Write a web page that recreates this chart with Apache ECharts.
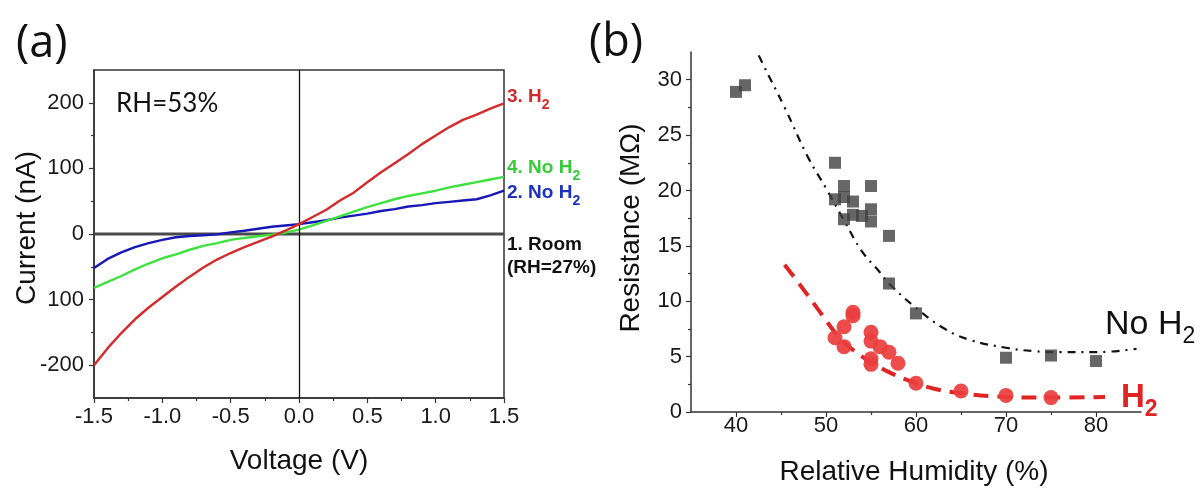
<!DOCTYPE html>
<html><head><meta charset="utf-8">
<script src="https://cdn.jsdelivr.net/npm/echarts@6/dist/echarts.min.js"></script>
<style>html,body{margin:0;padding:0;background:#fff}#c{width:1203px;height:489px}</style>
</head><body><div id="c"></div>
<script>
// ---------- Panel (a): I-V curves ----------
const voltage = [-1.5,-1.4,-1.3,-1.2,-1.1,-1.0,-0.9,-0.8,-0.7,-0.6,-0.5,-0.4,-0.3,-0.2,-0.1,0,0.1,0.2,0.3,0.4,0.5,0.6,0.7,0.8,0.9,1.0,1.1,1.2,1.3,1.4,1.5];
const currentH2   = [-200,-174,-151,-130,-112,-96,-80,-65,-51,-39,-29,-20,-12,-4,5,15,26,37,51,63,79,94,108,122,137,150,163,174,182,191,199];
const currentNoH2Second = [-82,-73,-64,-54,-45,-37,-31,-24,-18,-14,-9,-6,-3.5,-1,2,6.6,13,20,27,34,41,47,53,58,62,66,71,75,79,83,87];
const currentNoH2First  = [-52,-38,-28,-20,-14,-9,-5,-3,-2,-0.5,2.5,5,8,11,13,15,18,21,25,28,31,35,38,42,44,47,49,51,53,59,66];
const roomVoltage = [-1.5, 1.5];
const roomCurrent = [0, 0];
const voltageTickLabels = [-1.5,-1.0,-0.5,0,0.5,1.0,1.5];
const currentTicks = [-200,-100,0,100,200];
const currentMinorTicks = [-150,-50,50,150];

// ---------- Panel (b): resistance vs humidity ----------
const rhNoH2  = [40,41,51,52,55,51,52,53,55,53,54,52,55,57,57,60,70,75,80];
const resNoH2 = [28.9,29.5,22.5,20.4,20.4,19.2,19.4,19.0,18.3,17.8,17.7,17.4,17.2,15.9,11.6,8.9,4.9,5.1,4.6];
const rhH2  = [53,53,52,51,52,55,55,56,57,55,55,58,60,65,70,75];
const resH2 = [8.7,9.0,7.7,6.7,5.9,7.2,6.4,5.9,5.4,4.8,4.3,4.4,2.6,1.9,1.5,1.3];
const fitNoH2X = [41.5,43,45.4,48,50,52,54,56,57,60,63,66,70,73,76,80,84.5];
const fitNoH2Y = [34.0,31.4,27.5,23.0,20.2,17.3,14.5,12.6,11.6,9.4,7.6,6.5,5.8,5.5,5.4,5.4,5.7];
const fitH2X = [45.4,47,49,51.3,53,55,57,59,62,65,69,75,81];
const fitH2Y = [13.3,11.6,9.4,6.9,5.6,4.5,3.6,2.9,2.1,1.7,1.4,1.3,1.35];
const rhTicks = [40,50,60,70,80];
const rhMinorTicks = [45,55,65,75];
const resTicks = [0,5,10,15,20,25,30];
const resMinorTicks = [2.5,7.5,12.5,17.5,22.5,27.5];

const zip = (a, b) => a.map((v, i) => [v, b[i]]);
const AX = '#333';
const LBL = {fontSize: 22, color: '#1a1a1a', fontFamily: 'Liberation Sans'};
const FONT = 'Liberation Sans';

function subLabel(main, color, size, subSize, lh, bold) {
  const w = bold ? 'bold' : 'normal';
  return {
    text: '{m|' + main + '}{s|2}', align: 'left', verticalAlign: 'middle',
    rich: {
      m: {fontFamily: FONT, fontWeight: w, fontSize: size, lineHeight: lh, fill: color},
      s: {fontFamily: FONT, fontWeight: w, fontSize: subSize, verticalAlign: 'bottom', fill: color}
    }
  };
}

const chart = echarts.init(document.getElementById('c'), null, {renderer: 'canvas'});
chart.setOption({
  animation: false,
  backgroundColor: '#fff',
  grid: [
    {left: 94, top: 70, width: 410, height: 328, show: true, borderColor: AX, borderWidth: 1.5, backgroundColor: 'transparent', containLabel: false},
    {left: 691, top: 52, width: 450, height: 360, containLabel: false}
  ],
  xAxis: [
    {gridIndex: 0, type: 'value', min: -1.5, max: 1.5, interval: 0.5,
     axisLine: {show: true, onZero: false, lineStyle: {color: AX, width: 1.5}},
     axisTick: {show: true, length: 5, lineStyle: {color: AX, width: 1.2}},
     minorTick: {show: true, splitNumber: 2, length: 3, lineStyle: {color: AX, width: 1.2}},
     axisLabel: Object.assign({margin: 8, formatter: v => v.toFixed(1), customValues: voltageTickLabels}, LBL),
     splitLine: {show: false}},
    {gridIndex: 1, type: 'value', min: 35, max: 85, interval: 5, position: 'bottom',
     axisLine: {show: true, onZero: false, lineStyle: {color: AX, width: 1.5}},
     axisTick: {show: true, length: 5, customValues: rhTicks, lineStyle: {color: AX, width: 1.2}},
     axisLabel: Object.assign({margin: 3, customValues: rhTicks}, LBL),
     splitLine: {show: false}},
    {gridIndex: 1, type: 'value', min: 35, max: 85, interval: 5, position: 'bottom',
     axisLine: {show: false, onZero: false},
     axisTick: {show: true, length: 3, customValues: rhMinorTicks, lineStyle: {color: AX, width: 1.2}},
     axisLabel: {show: false}, splitLine: {show: false}}
  ],
  yAxis: [
    {gridIndex: 0, type: 'value', min: -250, max: 250, interval: 50, position: 'left',
     axisLine: {show: true, onZero: false, lineStyle: {color: AX, width: 1.5}},
     axisTick: {show: true, length: 5, customValues: currentTicks, lineStyle: {color: AX, width: 1.2}},
     axisLabel: Object.assign({margin: 10, customValues: currentTicks, formatter: v => (v === -100 ? '100' : String(v))}, LBL),
     splitLine: {show: false}},
    {gridIndex: 0, type: 'value', min: -250, max: 250, interval: 50, position: 'left',
     axisLine: {show: false, onZero: false},
     axisTick: {show: true, length: 3, customValues: currentMinorTicks, lineStyle: {color: AX, width: 1.2}},
     axisLabel: {show: false}, splitLine: {show: false}},
    {gridIndex: 1, type: 'value', min: 0, max: 32.5, interval: 2.5, position: 'left',
     axisLine: {show: true, onZero: false, lineStyle: {color: AX, width: 1.5}},
     axisTick: {show: true, length: 5, customValues: resTicks, lineStyle: {color: AX, width: 1.2}},
     axisLabel: Object.assign({margin: 9, customValues: resTicks}, LBL),
     splitLine: {show: false}},
    {gridIndex: 1, type: 'value', min: 0, max: 32.5, interval: 2.5, position: 'left',
     axisLine: {show: false, onZero: false},
     axisTick: {show: true, length: 3, customValues: resMinorTicks, lineStyle: {color: AX, width: 1.2}},
     axisLabel: {show: false}, splitLine: {show: false}}
  ],
  series: [
    {name: '1. Room', type: 'line', xAxisIndex: 0, yAxisIndex: 0, data: zip(roomVoltage, roomCurrent),
     showSymbol: false, lineStyle: {color: '#4a4a4a', width: 3}, z: 2,
     markLine: {silent: true, symbol: 'none', label: {show: false},
       lineStyle: {color: '#111', width: 1.3, type: 'solid'}, data: [{xAxis: 0}]}},
    {name: '2. No H2', type: 'line', xAxisIndex: 0, yAxisIndex: 0, data: zip(voltage, currentNoH2First),
     showSymbol: false, lineStyle: {color: '#1717b8', width: 2.4}, z: 3},
    {name: '4. No H2', type: 'line', xAxisIndex: 0, yAxisIndex: 0, data: zip(voltage, currentNoH2Second),
     showSymbol: false, lineStyle: {color: '#3ee23e', width: 2.4}, z: 4},
    {name: '3. H2', type: 'line', xAxisIndex: 0, yAxisIndex: 0, data: zip(voltage, currentH2),
     showSymbol: false, lineStyle: {color: '#d42a2a', width: 2.4}, z: 5},

    {name: 'fit No H2', type: 'line', xAxisIndex: 1, yAxisIndex: 2, data: zip(fitNoH2X, fitNoH2Y),
     smooth: 0.4, showSymbol: false, lineStyle: {color: '#111', width: 2.2, type: [8, 6, 2, 6]}, z: 2},
    {name: 'fit H2', type: 'line', xAxisIndex: 1, yAxisIndex: 2, data: zip(fitH2X, fitH2Y),
     smooth: 0.4, showSymbol: false, lineStyle: {color: '#e02323', width: 4, type: [15, 9]}, z: 2},
    {name: 'No H2', type: 'scatter', xAxisIndex: 1, yAxisIndex: 2, data: zip(rhNoH2, resNoH2),
     symbol: 'rect', symbolSize: 12, itemStyle: {color: '#404040'}, z: 3},
    {name: 'H2', type: 'scatter', xAxisIndex: 1, yAxisIndex: 2, data: zip(rhH2, resH2),
     symbol: 'circle', symbolSize: 15, itemStyle: {color: '#ea3d3d', opacity: 0.92}, z: 3}
  ],
  graphic: [
    {type: 'text', x: 16, y: 44, style: {text: '(a)', fontFamily: 'Open Sans', fontSize: 45, fill: '#111', align: 'left', verticalAlign: 'middle'}},
    {type: 'text', x: 589, y: 43, style: {text: '(b)', fontFamily: 'Open Sans', fontSize: 45, fill: '#111', align: 'left', verticalAlign: 'middle'}},
    {type: 'text', x: 116, y: 104, style: {text: 'RH=53%', fontFamily: 'Lato', fontSize: 26, fill: '#111', align: 'left', verticalAlign: 'middle'}},
    {type: 'text', x: 27, y: 228, rotation: Math.PI / 2, style: {text: 'Current (nA)', fontFamily: FONT, fontSize: 28, fill: '#111', align: 'center', verticalAlign: 'middle'}},
    {type: 'text', x: 299, y: 461, style: {text: 'Voltage (V)', fontFamily: FONT, fontSize: 28, fill: '#111', align: 'center', verticalAlign: 'middle'}},
    {type: 'text', x: 631, y: 228, rotation: Math.PI / 2, style: {text: 'Resistance (MΩ)', fontFamily: FONT, fontSize: 28, fill: '#111', align: 'center', verticalAlign: 'middle'}},
    {type: 'text', x: 914, y: 472, style: {text: 'Relative Humidity (%)', fontFamily: FONT, fontSize: 28, fill: '#111', align: 'center', verticalAlign: 'middle'}},
    {type: 'text', x: 507, y: 97, style: subLabel('3. H', '#d22a2a', 19, 14, 31, true)},
    {type: 'text', x: 507, y: 168, style: subLabel('4. No H', '#36cc36', 19, 14, 31, true)},
    {type: 'text', x: 507, y: 193, style: subLabel('2. No H', '#1c30c2', 19, 14, 31, true)},
    {type: 'text', x: 507, y: 245, style: {text: '1. Room', fontFamily: FONT, fontWeight: 'bold', fontSize: 19, fill: '#111', align: 'left', verticalAlign: 'middle'}},
    {type: 'text', x: 507, y: 268, style: {text: '(RH=27%)', fontFamily: FONT, fontWeight: 'bold', fontSize: 19, fill: '#111', align: 'left', verticalAlign: 'middle'}},
    {type: 'text', x: 1105, y: 325, style: subLabel('No H', '#111', 34, 23, 46, false)},
    {type: 'text', x: 1121, y: 398, style: subLabel('H', '#e02323', 33, 23, 46, true)}
  ]
});
</script></body></html>
